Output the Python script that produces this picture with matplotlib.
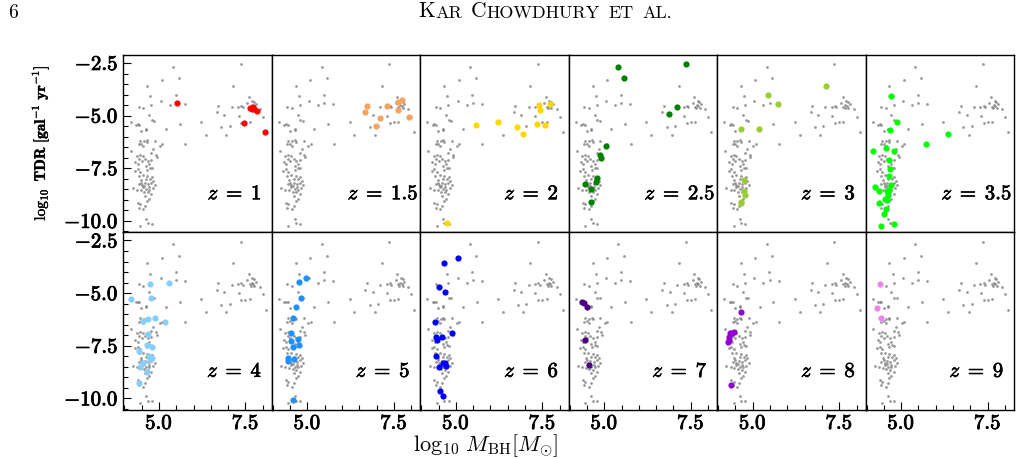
import numpy as np
import matplotlib
matplotlib.use('Agg')
import matplotlib.pyplot as plt
from matplotlib.ticker import MultipleLocator, FuncFormatter
import matplotlib.patheffects as pe

plt.rcParams['mathtext.fontset'] = 'cm'
plt.rcParams['font.family'] = 'serif'
plt.rcParams['font.serif'] = ['cmr10', 'DejaVu Serif']
plt.rcParams['axes.formatter.use_mathtext'] = True

# background sample (same in every panel): log10 M_BH, log10 TDR
gray_pts = [
    # upper scatter
    (7.36, -2.55), (5.41, -2.68), (5.57, -3.22), (5.08, -3.33), (7.15, -3.57),
    (4.66, -3.58), (5.48, -4.00), (4.75, -4.08), (5.05, -4.30), (5.31, -4.50),
    (5.49, -4.40), (5.75, -4.43), (4.78, -4.50), (4.55, -4.65), (4.42, -4.58),
    (4.72, -4.95), (4.80, -5.22), (4.87, -5.25), (4.18, -5.28), (4.33, -5.44),
    (4.38, -5.42), (4.43, -5.44), (4.63, -5.68), (4.63, -5.63), (4.49, -5.71),
    (5.20, -5.65), (5.60, -5.42), (6.22, -5.30), (6.36, -5.90), (5.76, -6.35),
    (4.20, -6.70), (4.89, -6.20),
    # high-mass group
    (6.72, -4.52), (6.67, -4.84), (6.89, -4.95), (7.10, -4.60), (7.04, -5.50),
    (6.80, -5.55), (6.95, -5.92), (7.29, -4.58), (7.38, -4.52), (7.42, -4.60),
    (7.55, -4.40), (7.62, -4.58), (7.70, -4.30), (7.75, -4.35), (7.80, -4.45),
    (7.76, -4.65), (7.66, -4.65), (7.92, -4.70), (8.00, -5.05), (8.09, -5.80),
    (7.50, -5.32), (7.62, -5.30), (7.38, -5.33), (7.30, -5.00), (7.60, -4.10),
    (7.68, -4.50), (7.72, -4.55),
    # low-mass column
    (4.45, -6.19), (4.56, -6.22), (4.64, -6.16), (4.42, -6.36), (4.49, -6.33),
    (4.55, -6.44), (4.66, -6.25), (5.02, -6.43), (5.09, -6.36), (4.91, -6.87),
    (4.93, -6.98), (4.84, -6.59), (4.78, -6.78), (4.36, -6.90), (4.45, -6.87),
    (4.53, -6.90), (4.43, -7.06), (4.50, -7.14), (4.32, -7.22), (4.39, -7.30),
    (4.60, -7.06), (4.68, -7.14), (4.78, -7.09), (4.72, -7.30), (4.63, -7.41),
    (4.30, -7.62), (4.38, -7.54), (4.45, -7.67), (4.65, -7.57), (4.74, -7.48),
    (4.80, -7.51), (4.41, -7.86), (4.53, -7.83), (4.66, -7.89), (4.80, -7.92),
    (4.74, -8.02), (4.84, -8.10), (4.62, -8.02), (4.47, -8.08), (4.43, -8.26),
    (4.49, -8.18), (4.60, -8.21), (4.69, -8.27), (4.78, -8.18), (4.88, -8.30),
    (4.53, -8.41), (4.63, -8.49), (4.72, -8.53), (4.82, -8.46), (4.47, -8.54),
    (4.36, -8.53), (4.24, -8.46), (4.57, -8.62), (4.68, -8.65), (4.78, -8.73),
    (4.61, -8.81), (4.72, -8.94), (4.66, -9.05), (4.38, -9.13), (4.45, -9.21),
    (4.61, -9.29), (4.55, -9.45), (4.42, -9.37), (4.63, -9.89), (4.45, -10.24),
    (4.67, -10.12), (4.79, -10.13), (4.58, -8.35), (4.52, -8.30), (4.70, -8.40),
]

z1_pts = [(5.51, -4.38), (7.63, -4.65), (7.71, -4.61), (7.76, -4.68), (7.84, -4.76),
          (7.68, -4.68), (7.47, -5.36), (8.06, -5.79)]
z15_pts = [(6.72, -4.53), (6.65, -4.82), (7.30, -4.55), (7.09, -5.12), (6.98, -5.47),
           (7.62, -4.34), (7.74, -4.25), (7.61, -4.73), (7.93, -5.08)]
z2_pts = [(4.74, -10.10), (5.59, -5.43), (6.22, -5.30), (6.78, -5.55), (6.95, -5.89),
          (7.35, -5.41), (7.57, -5.44), (7.39, -4.50), (7.42, -4.74), (7.71, -4.47)]
z25_pts = [(5.40, -2.67), (5.57, -3.22), (7.35, -2.53), (7.11, -4.61), (6.88, -4.93),
           (5.05, -6.43), (4.89, -6.86), (4.91, -7.00), (4.80, -7.95), (4.75, -8.13),
           (4.43, -8.26), (4.62, -8.49), (4.61, -9.08)]
z3_pts = [(7.12, -3.58), (5.45, -4.01), (5.72, -4.44), (4.66, -5.63), (5.18, -5.65),
          (4.74, -8.05), (4.74, -8.60), (4.78, -8.76), (4.66, -9.13), (4.65, -9.08)]
z35_pts = [(4.71, -4.09), (4.89, -5.30), (4.67, -5.68), (6.35, -5.89), (5.72, -6.35),
           (4.18, -6.70), (4.56, -6.54), (4.79, -6.70), (4.64, -7.13), (4.68, -7.52),
           (4.64, -7.87), (4.70, -8.30), (4.24, -8.41), (4.37, -8.59), (4.58, -8.56),
           (4.65, -8.54), (4.62, -8.78), (4.53, -8.94), (4.36, -9.13), (4.55, -9.43),
           (4.51, -9.65), (4.43, -10.23), (4.80, -10.13), (4.59, -8.99)]
z4_pts = [(4.18, -5.28), (4.74, -4.56), (5.30, -4.53), (4.77, -5.22), (4.67, -6.22),
          (4.54, -6.33), (4.89, -6.16), (5.16, -6.35), (4.69, -6.95), (4.65, -7.45),
          (4.80, -7.55), (4.41, -7.75), (4.79, -8.09), (4.75, -8.18), (4.55, -8.32),
          (4.45, -8.53), (4.66, -8.73), (4.42, -9.29), (4.72, -8.00)]
z5_pts = [(4.97, -4.29), (4.75, -4.49), (4.81, -5.24), (4.66, -5.66), (4.57, -6.20),
          (4.54, -6.88), (4.52, -7.29), (4.59, -7.55), (4.72, -7.18), (4.75, -7.45),
          (4.45, -8.10), (4.43, -8.24), (4.61, -8.13), (4.58, -10.09)]
z6_pts = [(4.66, -3.56), (5.07, -3.34), (4.52, -4.70), (4.70, -4.97), (4.41, -6.39),
          (4.90, -6.91), (4.44, -7.09), (4.60, -7.07), (4.45, -7.22), (4.43, -8.01),
          (4.50, -8.51), (4.64, -8.32), (4.70, -8.31), (4.71, -8.47), (4.54, -9.64),
          (4.63, -9.87)]
z7_pts = [(4.36, -5.43), (4.41, -5.46), (4.50, -5.68), (4.43, -7.25), (4.57, -8.43)]
z8_pts = [(4.66, -5.90), (4.33, -6.90), (4.39, -6.88), (4.47, -6.86), (4.31, -7.09),
          (4.30, -7.22), (4.29, -7.34), (4.36, -9.34)]
z9_pts = [(4.39, -4.56), (4.31, -5.71), (4.41, -6.20)]

z_labels = ['1', '1.5', '2', '2.5', '3', '3.5', '4', '5', '6', '7', '8', '9']
z_colors = ['red', '#f4a460', 'gold', 'green', 'yellowgreen', 'lime',
            'lightskyblue', 'dodgerblue', 'blue', 'indigo', 'darkviolet', 'violet']
z_sets = [z1_pts, z15_pts, z2_pts, z25_pts, z3_pts, z35_pts,
          z4_pts, z5_pts, z6_pts, z7_pts, z8_pts, z9_pts]

fig = plt.figure(figsize=(10.21, 4.59), dpi=100)
axes = fig.subplots(2, 6, sharex=True, sharey=True,
                    gridspec_kw=dict(hspace=0, wspace=0))
fig.subplots_adjust(left=0.1208, right=0.9931, top=0.8802, bottom=0.1068)

gx, gy = np.array(gray_pts).T
bold_fmt = FuncFormatter(lambda v, pos: r'$\mathbf{%.1f}$' % v)
thick = [pe.withStroke(linewidth=0.6, foreground='black')]

for i, ax in enumerate(axes.flat):
    row, col = divmod(i, 6)
    ax.scatter(gx, gy, s=4, c='gray', alpha=0.8, linewidths=0)
    px, py = np.array(z_sets[i]).T
    ax.scatter(px, py, s=20, c=z_colors[i], linewidths=0, zorder=3)
    ax.text(0.75, 0.215, r'$z\;=\;\mathbf{%s}$' % z_labels[i], transform=ax.transAxes,
            ha='center', va='center', fontsize=15,
            path_effects=[pe.withStroke(linewidth=0.5, foreground='black')])
    ax.set_xlim(3.97, 8.26)
    ax.set_ylim(-10.55, -2.12)
    ax.xaxis.set_major_locator(MultipleLocator(2.5))
    ax.xaxis.set_minor_locator(MultipleLocator(0.5))
    ax.yaxis.set_major_locator(MultipleLocator(2.5))
    ax.yaxis.set_minor_locator(MultipleLocator(0.5))
    ax.xaxis.set_major_formatter(bold_fmt)
    ax.yaxis.set_major_formatter(bold_fmt)
    ax.tick_params(which='both', direction='in', top=False, right=False,
                   labelsize=15, width=0.8)
    ax.tick_params(which='major', length=6)
    ax.tick_params(which='minor', length=3.5)
    if col > 0:
        ax.tick_params(which='both', left=False)
    if row == 0:
        ax.tick_params(which='both', bottom=False)
    for sp in ax.spines.values():
        sp.set_linewidth(1.0)

fig.text(40 / 1021, 1 - 143 / 459, r'$\log_{10}$ $\mathbf{TDR\ [gal^{-1}\ yr^{-1}]}$',
         rotation=90, ha='center', va='center', fontsize=11,
         path_effects=[pe.withStroke(linewidth=0.3, foreground='black')])
fig.text(486 / 1021, 1 - 446 / 459, r'$\log_{10}\, M_{\rm BH}[M_{\odot}]$',
         ha='center', va='center', fontsize=16)

# running head in small caps
fig.text(8 / 1021, 1 - 13 / 459, '6', ha='left', va='center', fontsize=14, family='cmr10')
pieces = [('AR', 13, 0.5), ('C', 15.5, 6), ('HOWDHURY', 13, 0.5),
          ('ET', 13, 6), ('AL.', 13, 6)]
prev = fig.text(418 / 1021, 1 - 21 / 459, 'K', ha='left', va='bottom',
                fontsize=15.5, family='cmr10')
for txt, size, gap in pieces:
    prev = fig.add_artist(plt.Annotation(txt, xy=(1, 0), xycoords=prev,
                                         xytext=(gap, 0), textcoords='offset points',
                                         ha='left', va='bottom', fontsize=size,
                                         family='cmr10'))

fig.canvas.draw()
for ax in axes.flat:
    for lab in ax.get_xticklabels() + ax.get_yticklabels():
        lab.set_path_effects(thick)

fig.savefig('out.png', dpi=100)
